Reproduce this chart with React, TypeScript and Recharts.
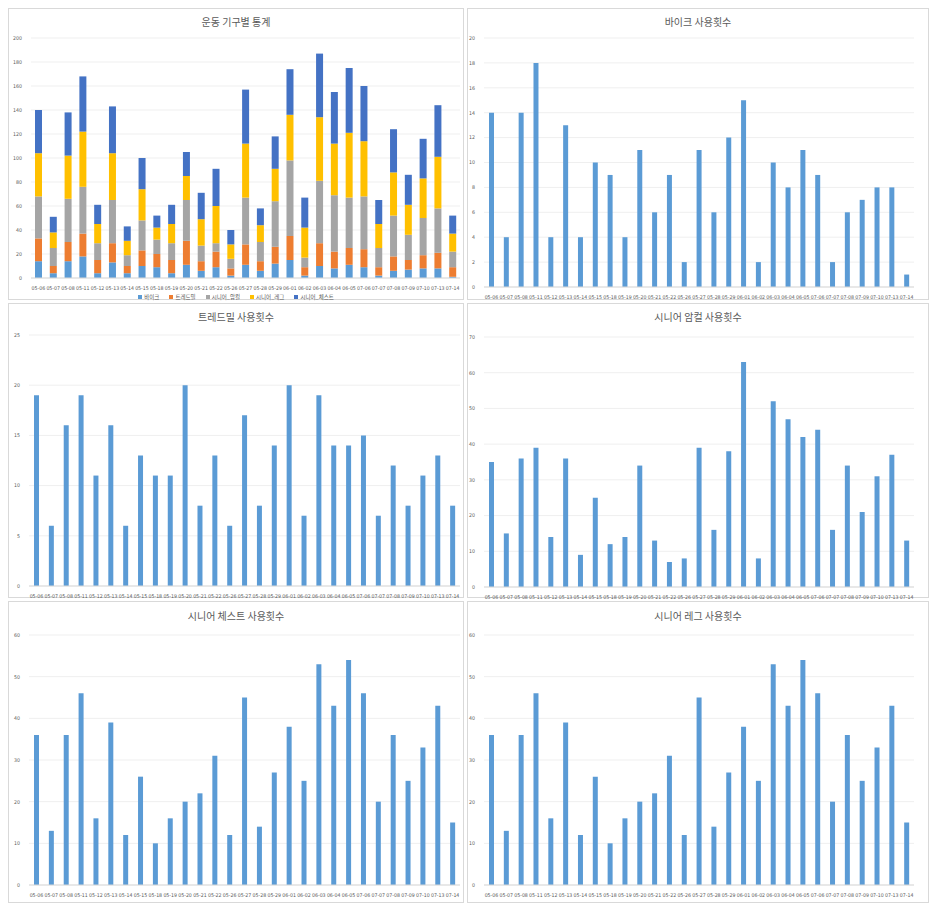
import React from "react";
import { BarChart, Bar, XAxis, YAxis, CartesianGrid } from "recharts";

const dates = ["05-06","05-07","05-08","05-11","05-12","05-13","05-14","05-15","05-18","05-19","05-20","05-21","05-22","05-26","05-27","05-28","05-29","06-01","06-02","06-03","06-04","06-05","07-06","07-07","07-08","07-09","07-10","07-13","07-14"];
const bike = [14,4,14,18,4,13,4,10,9,4,11,6,9,2,11,6,12,15,2,10,8,11,9,2,6,7,8,8,1];
const treadmill = [19,6,16,19,11,16,6,13,11,11,20,8,13,6,17,8,14,20,7,19,14,14,15,7,12,8,11,13,8];
const armCurl = [35,15,36,39,14,36,9,25,12,14,34,13,7,8,39,16,38,63,8,52,47,42,44,16,34,21,31,37,13];
const chest = [36,13,36,46,16,39,12,26,10,16,20,22,31,12,45,14,27,38,25,53,43,54,46,20,36,25,33,43,15];
const leg = [36,13,36,46,16,39,12,26,10,16,20,22,31,12,45,14,27,38,25,53,43,54,46,20,36,25,33,43,15];

const seriesNames = ["바이크","트레드밀","시니어_암컬","시니어_레그","시니어_체스트"];
const seriesColors = ["#5B9BD5","#ED7D31","#A5A5A5","#FFC000","#4472C4"];

const ticksTotal = [0,20,40,60,80,100,120,140,160,180,200];
const ticksBike = [0,2,4,6,8,10,12,14,16,18,20];
const ticksTread = [0,5,10,15,20,25];
const ticksArm = [0,10,20,30,40,50,60,70];
const ticksChest = [0,10,20,30,40,50,60];

const rows = dates.map((d, i) => ({
  d,
  bike: bike[i],
  treadmill: treadmill[i],
  armCurl: armCurl[i],
  leg: leg[i],
  chest: chest[i],
}));

const FONT = "'Noto Sans CJK KR', 'Noto Sans', sans-serif";
const TICKFONT = "'Liberation Sans Narrow', 'DejaVu Sans Condensed', 'Liberation Sans', sans-serif";
const TXT = "#595959";

type PanelProps = {
  left: number; top: number; width: number; height: number;
  title: string; titleTop: number;
  plotLeft: number; plotRight: number; plotTop: number; plotBottom: number;
  ticks: number[];
  keys: string[]; colors: string[];
  barSize: number;
  legend?: boolean;
};

function Panel(p: PanelProps) {
  const xh = 10;
  const yw = 14;
  const extra = 10;
  const ch = p.height + extra;
  const margin = {
    top: p.plotTop,
    bottom: ch - p.plotBottom - xh,
    left: p.plotLeft - yw,
    right: p.width - p.plotRight,
  };
  return (
    <div style={{ position: "absolute", left: p.left, top: p.top, width: p.width, height: p.height, background: "#fff", border: "1px solid #d9d9d9", boxSizing: "border-box", fontFamily: FONT }}>
      <div style={{ position: "absolute", left: 0, right: 0, top: p.titleTop, textAlign: "center", fontSize: 10, color: TXT, lineHeight: "12px" }}>{p.title}</div>
      <div style={{ position: "absolute", left: -1, top: -1 }}>
        <BarChart width={p.width} height={ch} data={rows} margin={margin} barGap={0}>
          <CartesianGrid vertical={false} stroke="#efefef" />
          <XAxis dataKey="d" interval={0} height={xh} tickLine={false} axisLine={{ stroke: "#d9d9d9" }} tick={{ fontSize: 5.2, fill: TXT, fontFamily: TICKFONT }} tickMargin={2} />
          <YAxis width={yw} domain={[p.ticks[0], p.ticks[p.ticks.length - 1]]} ticks={p.ticks} interval={0} tickLine={false} axisLine={false} tick={{ fontSize: 5.2, fill: TXT, fontFamily: TICKFONT }} tickMargin={3} />
          {p.keys.map((k, i) => (
            <Bar key={k} dataKey={k} stackId={p.keys.length > 1 ? "s" : undefined} fill={p.colors[i]} barSize={p.barSize} isAnimationActive={false} />
          ))}
        </BarChart>
      </div>
      {p.legend && (
        <div style={{ position: "absolute", left: 0, right: 0, top: 284, display: "flex", justifyContent: "center", gap: 10, fontSize: 5.5, color: TXT }}>
          {seriesNames.map((n, i) => (
            <span key={n} style={{ display: "flex", alignItems: "center", gap: 2 }}>
              <span style={{ width: 4, height: 4, background: seriesColors[i], display: "inline-block" }} />
              {n}
            </span>
          ))}
        </div>
      )}
    </div>
  );
}

export default function App() {
  return (
    <div style={{ position: "absolute", left: 0, top: 0, width: 931, height: 911, background: "#fff" }}>
      <Panel left={8} top={8} width={456} height={292} title="운동 기구별 통계" titleTop={7}
        plotLeft={23} plotRight={452} plotTop={30} plotBottom={270}
        ticks={ticksTotal} keys={["bike","treadmill","armCurl","leg","chest"]} colors={seriesColors} barSize={7} legend />
      <Panel left={467} top={8} width={462} height={292} title="바이크 사용횟수" titleTop={7}
        plotLeft={17} plotRight={447} plotTop={30} plotBottom={279}
        ticks={ticksBike} keys={["bike"]} colors={["#5B9BD5"]} barSize={5} />
      <Panel left={8} top={303} width={456} height={295} title="트레드밀 사용횟수" titleTop={7}
        plotLeft={21} plotRight={452} plotTop={32} plotBottom={283}
        ticks={ticksTread} keys={["treadmill"]} colors={["#5B9BD5"]} barSize={5} />
      <Panel left={467} top={303} width={462} height={295} title="시니어 암컬 사용횟수" titleTop={7}
        plotLeft={17} plotRight={447} plotTop={34} plotBottom={284}
        ticks={ticksArm} keys={["armCurl"]} colors={["#5B9BD5"]} barSize={5} />
      <Panel left={8} top={601} width={456} height={302} title="시니어 체스트 사용횟수" titleTop={8}
        plotLeft={21} plotRight={452} plotTop={34} plotBottom={284}
        ticks={ticksChest} keys={["chest"]} colors={["#5B9BD5"]} barSize={5} />
      <Panel left={467} top={601} width={462} height={302} title="시니어 레그 사용횟수" titleTop={8}
        plotLeft={17} plotRight={447} plotTop={34} plotBottom={284}
        ticks={ticksChest} keys={["leg"]} colors={["#5B9BD5"]} barSize={5} />
    </div>
  );
}
